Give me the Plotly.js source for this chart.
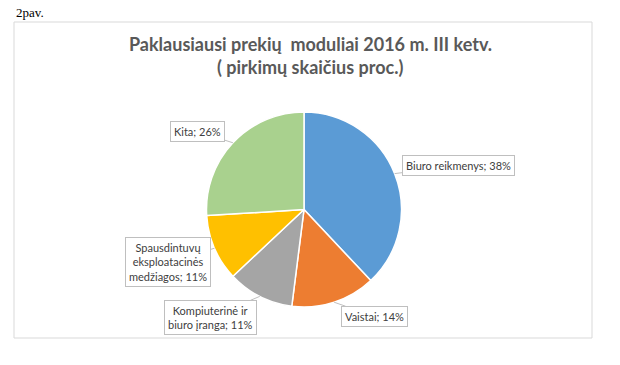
<!DOCTYPE html>
<html><head><meta charset="utf-8">
<script src="https://cdn.plot.ly/plotly-3.0.1.min.js"></script>
<style>html,body{margin:0;padding:0;background:#fff}</style>
</head><body><div id="chart" style="width:620px;height:365px"></div>
<script>
const categories = ["Biuro reikmenys", "Vaistai", "Kompiuterinė ir biuro įranga", "Spausdintuvų eksploatacinės medžiagos", "Kita"];
const labelTexts = ["Biuro reikmenys", "Vaistai", "Kompiuterinė ir<br>biuro įranga", "Spausdintuvų<br>eksploatacinės<br>medžiagos", "Kita"];
const values = [38, 14, 11, 11, 26];
const colors = ["#5b9bd5", "#ed7d31", "#a5a5a5", "#ffc000", "#a9d18e"];
const titleLines = ["Paklausiausi prekių  moduliai 2016 m. III ketv.", "( pirkimų skaičius proc.)"];
const offsets = [[64, -8], [40, 14], [-49, 21], [-47, 14], [-35, -11]];

const W = 620, H = 365;
const cx = 304, cy = 209.5, r = 97.5;
const total = values.reduce((a, b) => a + b, 0);

const annotations = [];
let cum = 0;
values.forEach((v, i) => {
  const mid = (cum + v / 2) / total * 2 * Math.PI;
  cum += v;
  const px = cx + r * Math.sin(mid), py = cy - r * Math.cos(mid);
  annotations.push({
    x: px / W, y: 1 - py / H, xref: 'paper', yref: 'paper',
    text: labelTexts[i] + '; ' + Math.round(v / total * 100) + '%',
    showarrow: true, arrowhead: 0, arrowwidth: 1, arrowcolor: '#bfbfbf',
    ax: offsets[i][0], ay: offsets[i][1],
    bgcolor: '#ffffff', bordercolor: '#bfbfbf', borderwidth: 1, borderpad: 3,
    font: {family: 'Lato, sans-serif', size: 11, color: '#404040'}, align: 'center'
  });
});
const titleY = [44, 67];
titleLines.forEach((t, i) => {
  annotations.push({
    x: 0.5, y: 1 - titleY[i] / H, xref: 'paper', yref: 'paper', xanchor: 'center', yanchor: 'middle',
    text: '<b>' + t + '</b>', showarrow: false,
    font: {family: 'Lato, sans-serif', size: 18, color: '#595959'}
  });
});
annotations.push({
  x: 14 / W, y: 1 - 3 / H, xref: 'paper', yref: 'paper', xanchor: 'left', yanchor: 'top',
  text: '2pav.', showarrow: false, font: {family: 'Liberation Serif, serif', size: 13, color: '#000'}
});

const data = [{
  type: 'pie', values: values, labels: categories, sort: false, direction: 'clockwise', rotation: 0,
  marker: {colors: colors, line: {color: '#ffffff', width: 1.5}},
  textinfo: 'none', hoverinfo: 'label+percent',
  domain: {x: [(cx - r) / W, (cx + r) / W], y: [1 - (cy + r) / H, 1 - (cy - r) / H]}
}];

const layout = {
  width: W, height: H, margin: {l: 0, r: 0, t: 0, b: 0}, showlegend: false,
  paper_bgcolor: '#fff',
  shapes: [{type: 'rect', xref: 'paper', yref: 'paper', x0: 14 / W, x1: 592 / W, y0: 1 - 338 / H, y1: 1 - 22 / H,
    line: {color: '#d9d9d9', width: 1}}],
  annotations: annotations
};
Plotly.newPlot('chart', data, layout, {displayModeBar: false, staticPlot: true});
</script></body></html>
